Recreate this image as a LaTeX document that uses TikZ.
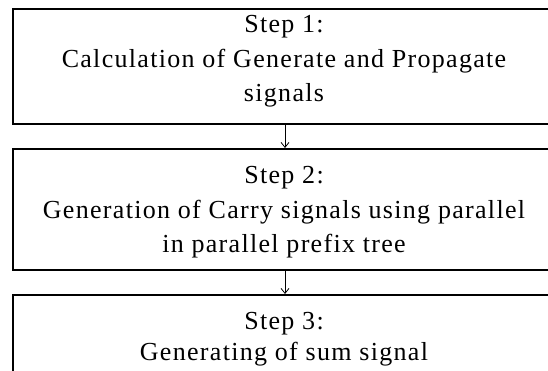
\documentclass[tikz,border=0pt]{standalone}
\usepackage{fontspec}
\setmainfont{Liberation Serif}[LetterSpace=5]
\usetikzlibrary{arrows.meta}
\tikzset{
  stepbox/.style={draw=black, line width=1.6pt, fill=none, anchor=north west, inner sep=0pt},
  steptext/.style={anchor=north, align=center, inner sep=0pt, font=\fontsize{26pt}{34.5pt}\selectfont},
  flow/.style={draw=black, line width=0.8pt, -{Straight Barb[length=5pt,width=8pt,line width=0.8pt]}}
}
\begin{document}
\begin{tikzpicture}[x=1pt,y=-1pt]
\useasboundingbox (0,0) rectangle (548,371);
\fill[white] (0,0) rectangle (548,371);
\clip (0,0) rectangle (548,371);
\node[stepbox, minimum width=560pt, minimum height=115pt] (b1) at (12,8) {};
\node[stepbox, minimum width=560pt, minimum height=121pt] (b2) at (12,148) {};
\node[stepbox, minimum width=560pt, minimum height=121pt] (b3) at (12,294) {};
\node[steptext] (t1) at (284,15.3) {Step 1:\\Calculation of Generate and Propagate\\signals};
\node[steptext] (t2) at (284,166.3) {Step 2:\\Generation of Carry signals using parallel\\in parallel prefix tree};
\node[steptext, font=\fontsize{26pt}{31pt}\selectfont] (t3) at (284,312.5) {Step 3:\\Generating of sum signal};
\draw[flow] (b1.south -| 285,0) -- (b2.north -| 285,0);
\draw[flow] (b2.south -| 285,0) -- (b3.north -| 285,0);
\end{tikzpicture}
\end{document}
